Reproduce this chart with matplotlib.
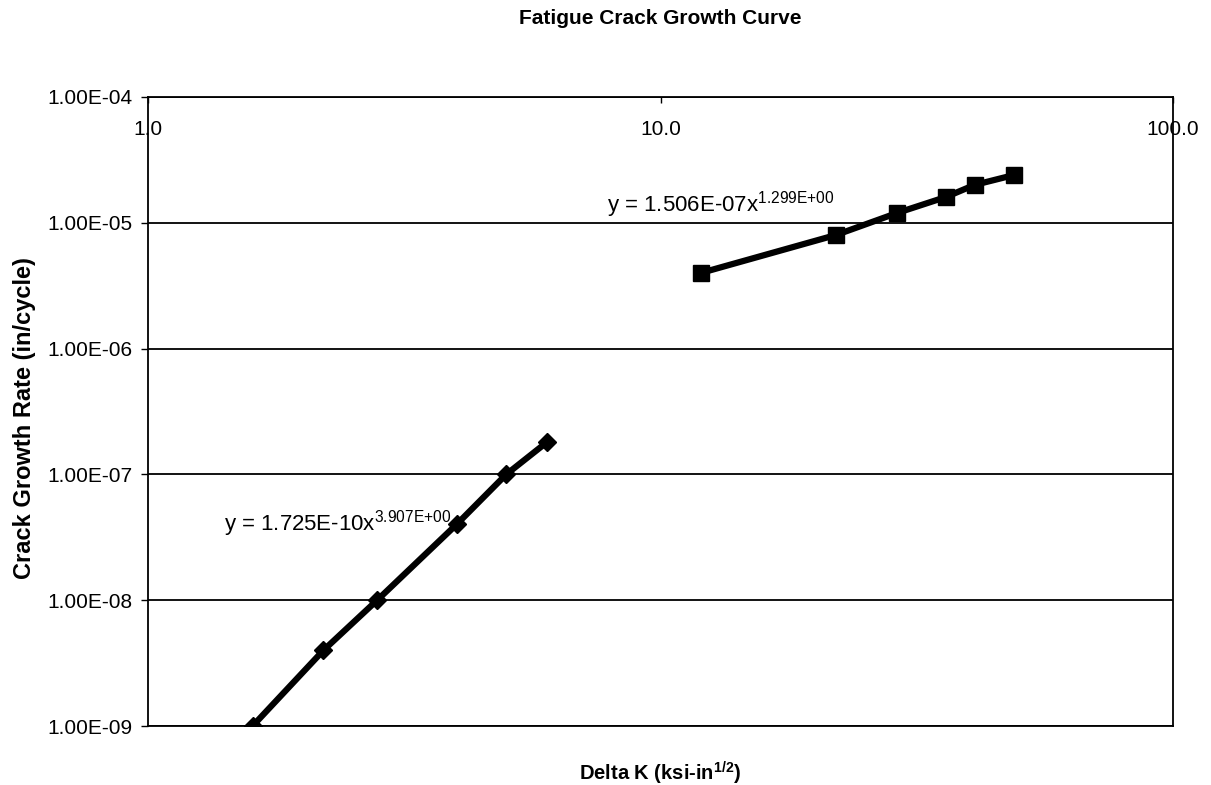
import matplotlib
matplotlib.use("Agg")
import matplotlib.pyplot as plt
from matplotlib.ticker import FixedLocator, FixedFormatter, NullLocator

plt.rcParams['font.family'] = ['Liberation Sans', 'DejaVu Sans']
plt.rcParams['mathtext.fontset'] = 'custom'
plt.rcParams['mathtext.rm'] = 'Liberation Sans'
plt.rcParams['mathtext.it'] = 'Liberation Sans:italic'
plt.rcParams['mathtext.bf'] = 'Liberation Sans:bold'

# Stage I (near-threshold) data
delta_k_low = [1.6, 2.2, 2.8, 4.0, 5.0, 6.0]
rate_low = [1.0e-9, 4.0e-9, 1.0e-8, 4.0e-8, 1.0e-7, 1.8e-7]

# Stage II (Paris regime) data
delta_k_high = [12.0, 22.0, 29.0, 36.0, 41.0, 49.0]
rate_high = [4.0e-6, 8.0e-6, 1.2e-5, 1.6e-5, 2.0e-5, 2.4e-5]

fit_low = ("1.725E-10", "3.907E{+}00")
fit_high = ("1.506E-07", "1.299E{+}00")

x_ticks = [1.0, 10.0, 100.0]
x_tick_labels = ["1.0", "10.0", "100.0"]
y_ticks = [1e-9, 1e-8, 1e-7, 1e-6, 1e-5, 1e-4]
y_tick_labels = ["1.00E-09", "1.00E-08", "1.00E-07", "1.00E-06", "1.00E-05", "1.00E-04"]

fig = plt.figure(figsize=(12.11, 7.85), dpi=100)
ax = fig.add_axes([148 / 1211, 1 - 726 / 785, (1173 - 148) / 1211, (726 - 97) / 785])

ax.set_xscale('log')
ax.set_yscale('log')
ax.set_xlim(1.0, 100.0)
ax.set_ylim(1e-9, 1e-4)

ax.plot(delta_k_low, rate_low, color='black', lw=4.5, marker='D', markersize=9.5,
        solid_capstyle='butt', zorder=3)
ax.plot(delta_k_high, rate_high, color='black', lw=4.5, marker='s', markersize=11,
        solid_capstyle='butt', zorder=3)

# horizontal gridlines at each decade
ax.yaxis.set_major_locator(FixedLocator(y_ticks))
ax.yaxis.set_major_formatter(FixedFormatter(y_tick_labels))
ax.yaxis.set_minor_locator(NullLocator())
ax.grid(axis='y', which='major', color='black', lw=1.3)
ax.grid(axis='x', visible=False)

ax.xaxis.set_major_locator(FixedLocator(x_ticks))
ax.xaxis.set_major_formatter(FixedFormatter(x_tick_labels))
ax.xaxis.set_minor_locator(NullLocator())
ax.xaxis.tick_top()
ax.tick_params(axis='x', which='major', direction='in', length=4, width=1,
               top=True, bottom=False, labeltop=True, labelbottom=False,
               pad=-30, labelsize=15)
ax.tick_params(axis='y', which='major', direction='out', length=5, width=1,
               labelsize=15, pad=6)

for side in ['left', 'right', 'top', 'bottom']:
    ax.spines[side].set_color('black')
    ax.spines[side].set_linewidth(1.3)

ax.set_title("Fatigue Crack Growth Curve", fontsize=15, fontweight='bold', pad=0,
             y=1 + (97 - 24) / (726 - 97))
ax.set_xlabel(r"Delta K (ksi-in$^{\mathbf{1/2}}$)", fontsize=14.5, fontweight='bold',
              labelpad=24)
ax.set_ylabel("Crack Growth Rate (in/cycle)", fontsize=17, fontweight='bold')
ax.yaxis.set_label_coords((25 - 148) / (1173 - 148), 0.49)
ax.yaxis.label.set_verticalalignment('center')

# trendline equations
ax.text(1.41, 3.56e-8, r"y = %sx$^{\mathrm{%s}}$" % fit_low, fontsize=16,
        ha='left', va='baseline')
ax.text(7.86, 1.22e-5, r"y = %sx$^{\mathrm{%s}}$" % fit_high, fontsize=16,
        ha='left', va='baseline')

fig.savefig("out.png", dpi=100, facecolor='white')
